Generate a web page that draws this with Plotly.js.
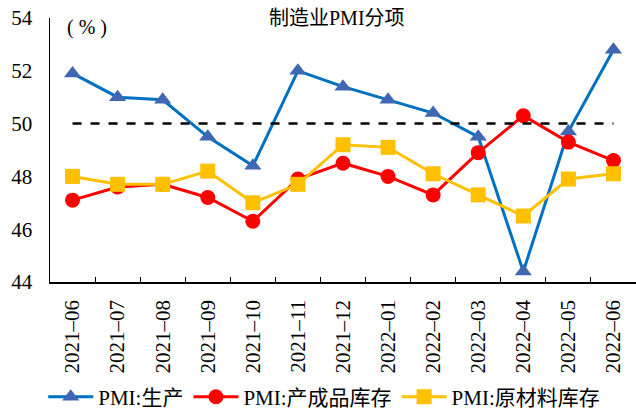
<!DOCTYPE html>
<html><head><meta charset="utf-8">
<script src="https://cdn.plot.ly/plotly-3.0.1.min.js"></script>
<style>body{margin:0;padding:0;background:#fff}#chart{width:636px;height:417px}</style>
</head><body><div id="chart"></div>
<script>
var months = ["2021-06","2021-07","2021-08","2021-09","2021-10","2021-11","2021-12","2022-01","2022-02","2022-03","2022-04","2022-05","2022-06"];
var production = [51.9,51.0,50.9,49.5,48.4,52.0,51.4,50.9,50.4,49.5,44.4,49.7,52.8];
var finishedGoods = [47.1,47.6,47.7,47.2,46.3,47.9,48.5,48.0,47.3,48.9,50.3,49.3,48.6];
var rawMaterials = [48.0,47.7,47.7,48.2,47.0,47.7,49.2,49.1,48.1,47.3,46.5,47.9,48.1];
var seriesNames = ["PMI:生产","PMI:产成品库存","PMI:原材料库存"];
var threshold = 50;
var yTicks = [44,46,48,50,52,54];

var serif = "'Liberation Serif','Noto Sans CJK SC',serif";
var tickText = months.map(function(m){return m.replace("-","\u2013");});

var traces = [
  {x: months, y: production, name: seriesNames[0], type: "scatter", mode: "lines+markers",
   line: {color: "#0070C0", width: 3}, marker: {symbol: "triangle-up", size: 15, color: "#4068B2"}},
  {x: months, y: finishedGoods, name: seriesNames[1], type: "scatter", mode: "lines+markers",
   line: {color: "#FF0000", width: 3}, marker: {symbol: "circle", size: 15, color: "#FF0000"}},
  {x: months, y: rawMaterials, name: seriesNames[2], type: "scatter", mode: "lines+markers",
   line: {color: "#FFC000", width: 3}, marker: {symbol: "square", size: 15, color: "#FFC000"}}
];

var layout = {
  width: 636, height: 417,
  margin: {l: 50, r: 0, t: 18, b: 135, autoexpand: false},
  paper_bgcolor: "#fff", plot_bgcolor: "#fff",
  font: {family: serif, color: "#000", size: 16},
  showlegend: true,
  legend: {orientation: "h", x: 0.468, xanchor: "center", y: -0.436, yanchor: "middle",
           font: {family: serif, size: 21}, traceorder: "normal", itemwidth: 45},
  xaxis: {type: "category", range: [-0.5, 12.5], tickvals: months, ticktext: tickText,
          tickangle: -90, tickson: "boundaries", ticks: "inside", ticklen: 5, tickcolor: "#000",
          showline: true, linecolor: "#000", linewidth: 1.5, showgrid: false, zeroline: false,
          ticklabelstandoff: 8, tickfont: {family: serif, size: 21}},
  yaxis: {range: [44, 54], tickvals: yTicks, showline: true, linecolor: "#000", linewidth: 1.5,
          showgrid: false, zeroline: false, ticks: "", ticklabelstandoff: 12,
          tickfont: {family: serif, size: 21}},
  shapes: [{type: "line", xref: "x", yref: "y", x0: months[0], x1: months[months.length-1],
            y0: threshold, y1: threshold, line: {color: "#000", width: 2.5, dash: "dash"}}],
  annotations: [
    {text: "制造业PMI分项", xref: "paper", yref: "paper", x: 0.49, y: 1.0, xanchor: "center", yanchor: "middle",
     showarrow: false, font: {family: serif, size: 20}},
    {text: "( % )", xref: "paper", yref: "paper", x: 0.025, y: 0.965, xanchor: "left", yanchor: "middle",
     showarrow: false, font: {family: serif, size: 20}}
  ]
};

Plotly.newPlot("chart", traces, layout, {displayModeBar: false, staticPlot: true});
</script></body></html>
